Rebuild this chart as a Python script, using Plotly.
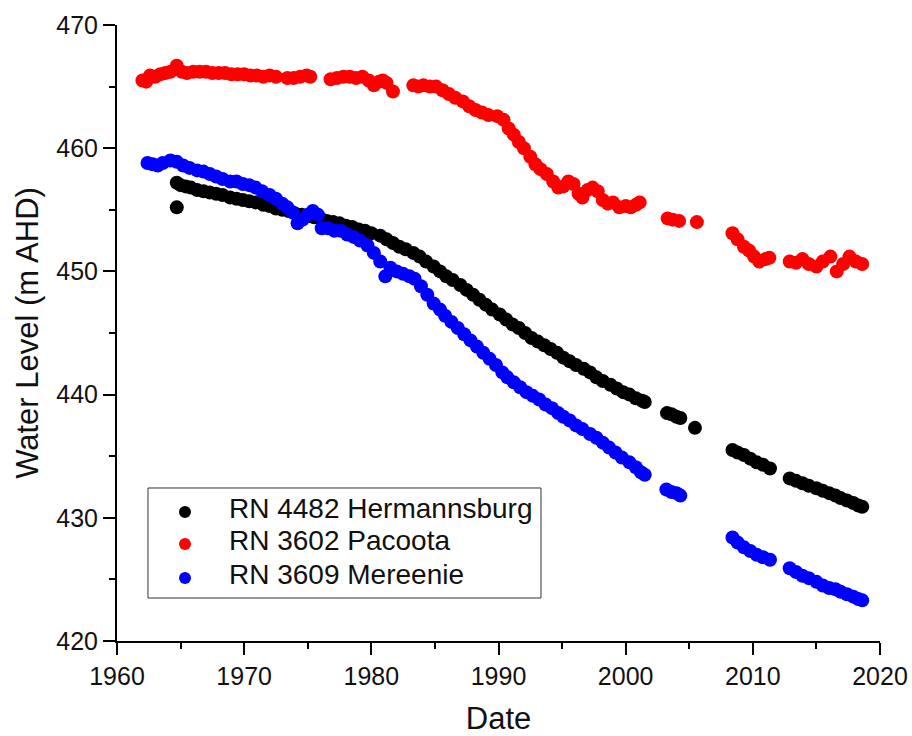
import plotly.graph_objects as go

# RN 4482 Hermannsburg
herm_year = [1964.7, 1964.7, 1965.0, 1965.4, 1965.8, 1966.3, 1966.8, 1967.3, 1967.8, 1968.3,
             1968.9, 1969.4, 1969.9, 1970.4, 1970.9, 1971.5, 1972.0, 1972.5, 1973.0, 1973.5,
             1974.0, 1974.5, 1975.0, 1975.5, 1976.0, 1976.5, 1977.0, 1977.5, 1978.0, 1978.5,
             1979.0, 1979.5, 1980.0, 1980.7, 1981.2, 1981.7, 1982.2, 1982.7, 1983.3, 1983.8,
             1984.3, 1984.9, 1985.4, 1985.9, 1986.4, 1987.0, 1987.5, 1988.0, 1988.5, 1989.0,
             1989.5, 1990.1, 1990.6, 1991.1, 1991.6, 1992.1, 1992.6, 1993.1, 1993.6, 1994.1,
             1994.6, 1995.1, 1995.6, 1996.1, 1996.7, 1997.2, 1997.7, 1998.2, 1998.8, 1999.3,
             1999.8, 2000.3, 2000.8, 2001.3, 2001.5, 2003.25, 2003.6, 2004.0, 2004.3, 2005.45,
             2008.4, 2008.8, 2009.3, 2009.8, 2010.3, 2010.8, 2011.35, 2012.9, 2013.4, 2013.9,
             2014.4, 2015.0, 2015.5, 2016.0, 2016.5, 2016.9, 2017.4, 2017.9, 2018.3, 2018.6]
herm_level = [455.2, 457.2, 457.0, 456.9, 456.8, 456.6, 456.5, 456.4, 456.3, 456.2,
              456.0, 455.9, 455.8, 455.7, 455.6, 455.4, 455.3, 455.1, 455.0, 454.9,
              454.7, 454.6, 454.5, 454.4, 454.3, 454.1, 454.0, 453.9, 453.7, 453.6,
              453.4, 453.3, 453.1, 452.9, 452.6, 452.3, 452.0, 451.8, 451.5, 451.2,
              450.8, 450.4, 450.0, 449.6, 449.3, 448.9, 448.5, 448.1, 447.7, 447.3,
              446.9, 446.5, 446.1, 445.7, 445.4, 445.0, 444.6, 444.3, 444.0, 443.7,
              443.4, 443.0, 442.7, 442.4, 442.1, 441.8, 441.4, 441.1, 440.8, 440.5,
              440.2, 440.0, 439.7, 439.5, 439.4, 438.5, 438.4, 438.2, 438.1, 437.3,
              435.5, 435.3, 435.1, 434.8, 434.5, 434.3, 434.0, 433.2, 433.0, 432.8,
              432.6, 432.4, 432.2, 432.0, 431.8, 431.6, 431.4, 431.2, 431.0, 430.9]

# RN 3602 Pacoota
pac_year = [1962.0, 1962.3, 1962.6, 1963.0, 1963.4, 1963.8, 1964.2, 1964.7, 1965.1, 1965.5,
            1966.0, 1966.5, 1967.0, 1967.5, 1968.0, 1968.5, 1969.0, 1969.5, 1970.0, 1970.5,
            1971.0, 1971.5, 1972.0, 1972.5, 1973.4, 1973.9, 1974.4, 1974.9, 1975.2, 1976.8,
            1977.3, 1977.8, 1978.3, 1978.8, 1979.3, 1979.8, 1980.2, 1980.6, 1980.9, 1981.2,
            1981.7, 1983.3, 1983.7, 1984.1, 1984.6, 1985.1, 1985.6, 1986.1, 1986.6, 1987.2,
            1987.7, 1988.2, 1988.7, 1989.2, 1989.9, 1990.4, 1990.8, 1991.2, 1991.6, 1992.0,
            1992.5, 1992.9, 1993.3, 1993.8, 1994.3, 1994.7, 1995.1, 1995.5, 1995.9, 1996.3,
            1996.6, 1997.0, 1997.4, 1997.8, 1998.2, 1998.6, 1999.0, 1999.5, 2000.0, 2000.4,
            2000.8, 2001.1, 2003.3, 2003.7, 2004.2, 2005.6, 2008.4, 2008.8, 2009.3, 2009.7,
            2010.1, 2010.5, 2011.0, 2011.3, 2012.9, 2013.4, 2013.9, 2014.4, 2015.0, 2015.5,
            2016.1, 2016.6, 2017.1, 2017.6, 2018.1, 2018.6]
pac_level = [465.5, 465.4, 465.9, 465.8, 466.0, 466.1, 466.2, 466.7, 466.2, 466.1,
             466.2, 466.2, 466.2, 466.1, 466.1, 466.1, 466.0, 466.0, 466.0, 465.9,
             465.9, 465.8, 465.9, 465.8, 465.7, 465.7, 465.8, 465.9, 465.8, 465.6,
             465.7, 465.8, 465.8, 465.7, 465.8, 465.5, 465.1, 465.4, 465.5, 465.3,
             464.6, 465.1, 465.0, 465.1, 465.0, 465.0, 464.7, 464.4, 464.1, 463.8,
             463.4, 463.1, 462.9, 462.7, 462.6, 462.3, 461.6, 461.1, 460.5, 460.0,
             459.3, 458.7, 458.3, 457.9, 457.3, 456.8, 456.9, 457.3, 457.1, 456.3,
             456.0, 456.6, 456.8, 456.5, 455.8, 455.5, 455.6, 455.2, 455.3, 455.2,
             455.4, 455.6, 454.3, 454.2, 454.1, 454.0, 453.1, 452.6, 452.0, 451.7,
             451.2, 450.8, 451.0, 451.1, 450.8, 450.7, 451.0, 450.6, 450.4, 450.8,
             451.2, 450.0, 450.6, 451.2, 450.8, 450.6]

# RN 3609 Mereenie
mer_year = [1962.4, 1962.8, 1963.2, 1963.6, 1964.2, 1964.7, 1965.2, 1965.7, 1966.3, 1966.8,
            1967.3, 1967.8, 1968.3, 1968.9, 1969.4, 1969.9, 1970.4, 1970.9, 1971.4, 1972.0,
            1972.5, 1973.0, 1973.4, 1973.8, 1974.2, 1974.6, 1975.0, 1975.4, 1975.8, 1976.1,
            1976.6, 1977.1, 1977.6, 1978.1, 1978.6, 1979.1, 1979.7, 1980.2, 1980.7, 1981.1,
            1981.5, 1982.0, 1982.5, 1983.0, 1983.4, 1983.9, 1984.4, 1984.9, 1985.4, 1985.8,
            1986.3, 1986.8, 1987.3, 1987.8, 1988.3, 1988.8, 1989.3, 1989.8, 1990.3, 1990.7,
            1991.2, 1991.7, 1992.2, 1992.7, 1993.2, 1993.7, 1994.2, 1994.7, 1995.1, 1995.6,
            1996.1, 1996.6, 1997.2, 1997.7, 1998.2, 1998.7, 1999.2, 1999.7, 2000.3, 2000.8,
            2001.2, 2001.5, 2003.2, 2003.6, 2004.0, 2004.3, 2008.4, 2008.8, 2009.3, 2009.8,
            2010.3, 2010.8, 2011.35, 2012.9, 2013.4, 2013.9, 2014.4, 2015.0, 2015.5, 2016.0,
            2016.5, 2016.9, 2017.4, 2017.9, 2018.3, 2018.6]
mer_level = [458.8, 458.7, 458.6, 458.8, 459.0, 458.9, 458.6, 458.4, 458.2, 458.1,
             457.9, 457.7, 457.5, 457.3, 457.3, 457.1, 457.0, 456.8, 456.5, 456.2,
             455.9, 455.5, 455.2, 454.8, 453.9, 454.2, 454.6, 454.9, 454.6, 453.5,
             453.5, 453.3, 453.3, 453.0, 452.8, 452.5, 452.1, 451.5, 450.8, 449.6,
             450.3, 450.0, 449.8, 449.6, 449.4, 448.8, 448.1, 447.4, 446.9, 446.4,
             445.9, 445.4, 444.9, 444.4, 443.9, 443.4, 442.9, 442.4, 441.8, 441.4,
             441.0, 440.6, 440.2, 439.9, 439.6, 439.2, 438.9, 438.5, 438.2, 437.9,
             437.5, 437.2, 436.8, 436.5, 436.1, 435.7, 435.3, 434.9, 434.5, 434.1,
             433.7, 433.5, 432.3, 432.1, 432.0, 431.8, 428.4, 428.0, 427.6, 427.3,
             427.0, 426.8, 426.6, 425.9, 425.6, 425.3, 425.1, 424.8, 424.5, 424.3,
             424.2, 424.0, 423.8, 423.6, 423.4, 423.3]

series = [
    ("RN 4482 Hermannsburg", herm_year, herm_level, "#000000"),
    ("RN 3602 Pacoota", pac_year, pac_level, "#ff0000"),
    ("RN 3609 Mereenie", mer_year, mer_level, "#0000ff"),
]

FONT = "Liberation Sans, Arial, sans-serif"
TEXT = "#111"

fig = go.Figure()
for name, xs, ys, color in series:
    fig.add_trace(go.Scatter(
        x=xs, y=ys, name=name, mode="markers", showlegend=False,
        marker=dict(size=14, color=color, line=dict(width=0)),
    ))

axis_common = dict(
    showline=True, linecolor="#000", linewidth=2,
    ticks="outside", ticklen=12, tickwidth=2, tickcolor="#000",
    showgrid=False, zeroline=False, mirror=False,
    tickfont=dict(family=FONT, size=25, color=TEXT),
)
minor_ticks = dict(ticks="outside", ticklen=6, tickwidth=2, tickcolor="#000", dtick=5, showgrid=False)

fig.update_xaxes(
    range=[1960, 2020], dtick=10, tick0=1960, minor=minor_ticks,
    title=dict(text="Date", font=dict(family=FONT, size=31, color=TEXT), standoff=19),
    **axis_common,
)
fig.update_yaxes(
    range=[420, 470], dtick=10, tick0=420, minor=minor_ticks,
    title=dict(text="Water Level (m AHD)", font=dict(family=FONT, size=31, color=TEXT), standoff=8),
    **axis_common,
)

# Boxed key in the lower-left corner of the plot area (paper coordinates)
key_box = dict(x0=0.0406, x1=0.5557, y0=0.0698, y1=0.2484)
key_rows = [0.2094, 0.1575, 0.1023]
key_marker_x = 0.0891
key_text_x = 0.1442

shapes = [dict(type="rect", xref="paper", yref="paper", layer="above",
               fillcolor="white", line=dict(color="#333", width=1), **key_box)]
annotations = []
for (name, _, _, color), ry in zip(series, key_rows):
    shapes.append(dict(
        type="circle", xref="paper", yref="paper", layer="above",
        xsizemode="pixel", ysizemode="pixel", xanchor=key_marker_x, yanchor=ry,
        x0=-6, x1=6, y0=-6, y1=6, fillcolor=color, line=dict(width=0),
    ))
    annotations.append(dict(
        xref="paper", yref="paper", x=key_text_x, y=ry + 0.006,
        xanchor="left", yanchor="middle", showarrow=False, text=name,
        font=dict(family=FONT, size=28, color=TEXT),
    ))

fig.update_layout(
    width=912, height=736,
    margin=dict(l=117, r=32, t=25, b=95, autoexpand=False),
    paper_bgcolor="white", plot_bgcolor="white",
    shapes=shapes, annotations=annotations,
)

fig.write_html("out.html")
